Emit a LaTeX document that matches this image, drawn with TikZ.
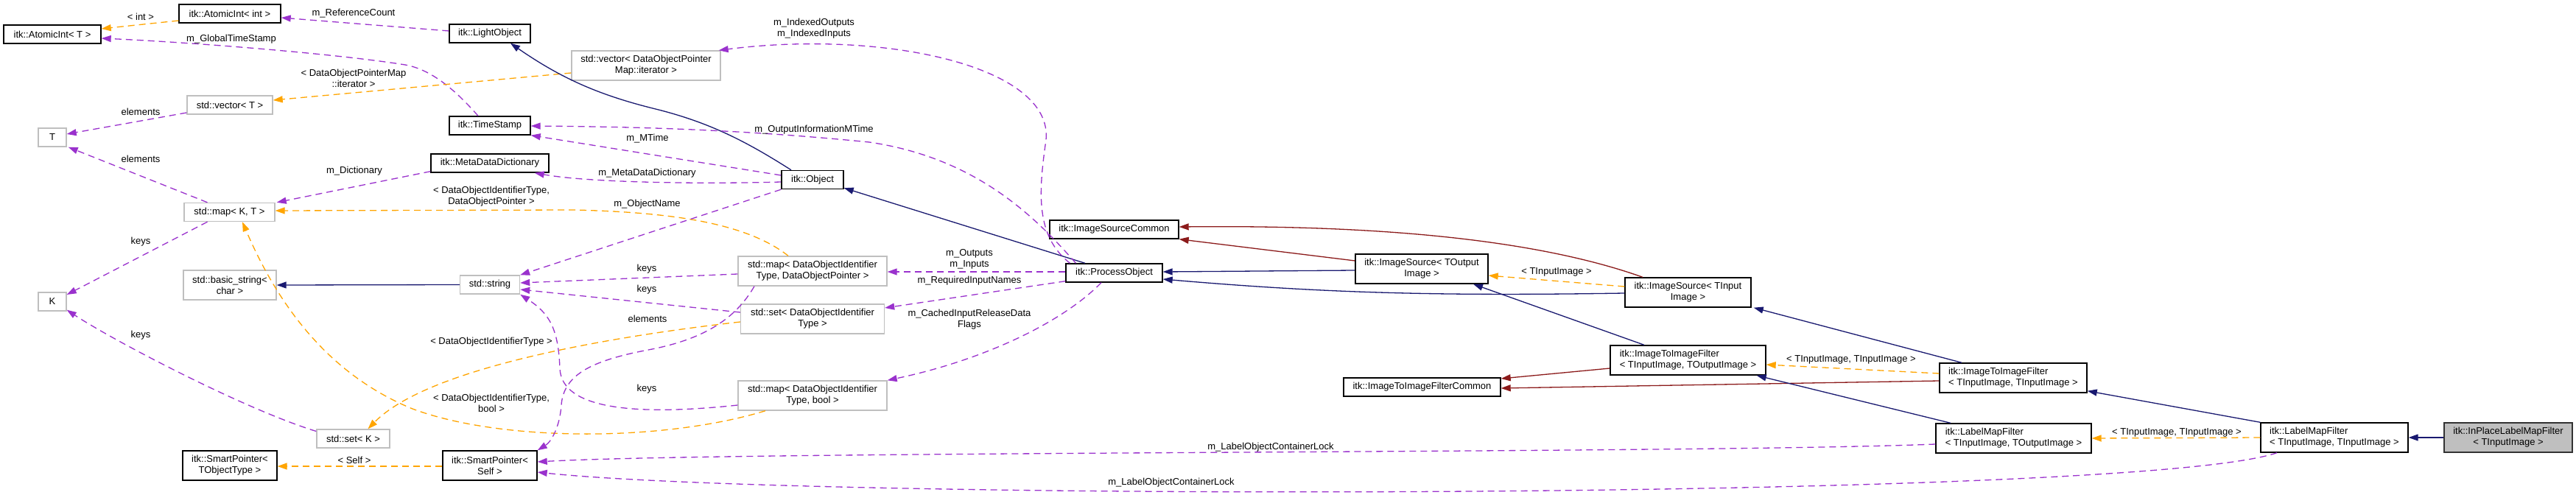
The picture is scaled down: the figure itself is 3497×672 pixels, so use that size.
\documentclass[tikz,border=0pt]{standalone}
\usepackage{fontspec}
\newfontfamily\dxfont{Liberation Sans}
\usetikzlibrary{arrows.meta,calc}
\definecolor{dblue}{HTML}{191970}
\definecolor{dred}{HTML}{8B1A1A}
\definecolor{dpurple}{HTML}{9A32CD}
\definecolor{dorange}{HTML}{FFA500}
\definecolor{grey75}{HTML}{BFBFBF}
\begin{document}
\begin{tikzpicture}[x=1pt,y=-1pt,
 box/.style={draw=black, line width=1.4pt, fill=white, inner sep=0pt, minimum height=25pt, align=center, font=\dxfont\fontsize{13}{15}\selectfont},
 gbox/.style={box, draw=grey75},
 tbox/.style={box, minimum height=40pt},
 gtbox/.style={gbox, minimum height=40pt},
 lbl/.style={inner sep=0pt, align=center, font=\dxfont\fontsize{13}{15}\selectfont},
 dxtip/.style={-{Triangle[length=13pt,width=9pt]}},
 inh/.style={draw=dblue, line width=1.3pt, dxtip},
 priv/.style={draw=dred, line width=1.3pt, dxtip},
 use/.style={draw=dpurple, line width=1.3pt, dash pattern=on 9pt off 6pt, dxtip},
 tmpl/.style={draw=dorange, line width=1.3pt, dash pattern=on 9pt off 6pt, dxtip},
]
\path[use as bounding box, fill=white] (0,0) rectangle (3497,672);

% ---- nodes ----
\node[box, minimum width=132pt] (atT) at (71,46.5) {itk::AtomicInt< T >};
\node[box, minimum width=138pt] (atInt) at (312,18.5) {itk::AtomicInt< int >};
\node[gbox, minimum width=116pt] (vecT) at (312,142.5) {std::vector< T >};
\node[gbox, minimum width=38pt] (T) at (71,186.5) {T};
\node[gbox, minimum width=123pt] (mapKT) at (311.5,288) {std::map< K, T >};
\node[gbox, minimum width=38pt] (K) at (71,409.5) {K};
\node[gtbox, minimum width=126pt] (bstr) at (312,387) {std::basic\_string<\\char >};
\node[gbox, minimum width=99pt] (setK) at (479.5,595.5) {std::set< K >};
\node[tbox, minimum width=128pt] (spTOT) at (312,632) {itk::SmartPointer<\\TObjectType >};
\node[box, minimum width=110pt] (lightObj) at (665,45.5) {itk::LightObject};
\node[gtbox, minimum width=202pt] (vecDOPM) at (877,89) {std::vector< DataObjectPointer\\Map::iterator >};
\node[box, minimum width=110pt] (timeStamp) at (665,170.5) {itk::TimeStamp};
\node[box, minimum width=160pt] (mdd) at (665,221.5) {itk::MetaDataDictionary};
\node[box, minimum width=84pt] (obj) at (1103,244) {itk::Object};
\node[gbox, minimum width=81pt] (str) at (665,386.5) {std::string};
\node[gtbox, minimum width=202pt] (mapDOP) at (1103,368) {std::map< DataObjectIdentifier\\Type, DataObjectPointer >};
\node[gtbox, minimum width=195pt] (setDOIT) at (1103,433) {std::set< DataObjectIdentifier\\Type >};
\node[gtbox, minimum width=202pt] (mapDB) at (1103,537) {std::map< DataObjectIdentifier\\Type, bool >};
\node[tbox, minimum width=128pt] (spSelf) at (665,632) {itk::SmartPointer<\\Self >};
\node[box, minimum width=131pt] (procObj) at (1512.5,370.5) {itk::ProcessObject};
\node[box, minimum width=175pt] (isc) at (1512.5,311.5) {itk::ImageSourceCommon};
\node[tbox, minimum width=180pt] (isTO) at (1930,365) {itk::ImageSource< TOutput\\Image >};
\node[tbox, minimum width=171pt] (isTI) at (2291.5,397) {itk::ImageSource< TInput\\Image >};
\node[box, minimum width=213pt] (itifc) at (1930.5,525.5) {itk::ImageToImageFilterCommon};
\node[tbox, minimum width=211pt, align=left] (itifTO) at (2291.5,489) {itk::ImageToImageFilter\\< TInputImage, TOutputImage >};
\node[tbox, minimum width=200pt, align=left] (itifTI) at (2733,513) {itk::ImageToImageFilter\\< TInputImage, TInputImage >};
\node[tbox, minimum width=211pt, align=left] (lmfTO) at (2733.5,595) {itk::LabelMapFilter\\< TInputImage, TOutputImage >};
\node[tbox, minimum width=200pt, align=left] (lmfTI) at (3169,594) {itk::LabelMapFilter\\< TInputImage, TInputImage >};
\node[tbox, minimum width=174pt, fill=grey75, draw=black!80] (inplace) at (3405,594) {itk::InPlaceLabelMapFilter\\< TInputImage >};

% ---- edges ----
\draw[tmpl] ($(atInt.west)+(0,9.5)$) -- ($(atT.east)+(0,-7.5)$);
\draw[use] ($(lightObj.west)+(0,-3.5)$) -- ($(atInt.east)+(0,5.5)$);
\draw[use] ($(timeStamp.north)+(-16,0)$) .. controls (625,130) and (590,95) .. (550,88) .. controls (450,72) and (250,57) .. ($(atT.east)+(0,5.5)$);
\draw[tmpl] ($(vecDOPM.west)+(0,10)$) -- ($(vecT.east)+(0,-6.5)$);
\draw[use] ($(vecT.west)+(0,10.5)$) -- ($(T.east)+(0,-4.5)$);
\draw[use] ($(mapKT.north)+(-30,0)$) -- ($(T.south east)+(2,0)$);
\draw[use] ($(mapKT.south)+(-30,0)$) -- ($(K.east)+(0,-9.5)$);
\draw[use] ($(setK.west)+(0,-10)$) .. controls (330,555) and (150,460) .. ($(K.south east)+(0,-2)$);
\draw[tmpl] ($(mapDOP.north)+(-33,0)$) .. controls (1010,300) and (900,288) .. (780,285) -- ($(mapKT.east)+(0,-2)$);
\draw[tmpl] ($(setDOIT.west)+(0,4)$) .. controls (820,458) and (580,500) .. ($(setK.north)+(20,0)$);
\draw[tmpl] ($(mapDB.south)+(-64,0)$) .. controls (900,600) and (680,600) .. (560,555) .. controls (450,510) and (380,420) .. ($(mapKT.south)+(17.5,0)$);
\draw[use] ($(mapDOP.west)+(0,4)$) -- ($(str.east)+(0,-2.5)$);
\draw[use] ($(setDOIT.west)+(0,-9)$) -- ($(str.east)+(0,6.5)$);
\draw[use] ($(mapDB.west)+(0,13)$) .. controls (860,565) and (762,555) .. (760,500) .. controls (758,445) and (745,425) .. (str.south east);
\draw[use] ($(mapDOP.south)+(-79,0)$) .. controls (1000,430) and (960,460) .. (880,475) .. controls (800,490) and (765,510) .. (762,550) .. controls (760,580) and (748,600) .. (spSelf.north east);
\draw[use] ($(obj.west)+(0,-6)$) -- (timeStamp.south east);
\draw[use] ($(obj.west)+(0,3)$) .. controls (950,250) and (800,248) .. ($(mdd.south east)+(-20,0)$);
\draw[use] (obj.south west) -- (str.north east);
\draw[inh] ($(obj.north)+(-29,0)$) .. controls (1010,190) and (960,165) .. (886,147) .. controls (810,128) and (760,105) .. ($(lightObj.south)+(28,0)$);
\draw[inh] ($(procObj.north)+(-39.5,0)$) -- ($(obj.south east)+(0,-2)$);
\draw[use] ($(procObj.north)+(-60,0)$) .. controls (1405,320) and (1410,260) .. (1420,190) .. controls (1430,90) and (1200,40) .. ($(vecDOPM.north east)+(-3,0)$);
\draw[use] ($(procObj.north)+(-52,0)$) .. controls (1410,300) and (1330,215) .. (1180,193) .. controls (1000,175) and (850,172) .. ($(timeStamp.east)+(0,0.5)$);
\draw[use] ($(procObj.west)+(0,-1.5)$) -- ($(mapDOP.east)+(0,1)$);
\draw[use] ($(procObj.south west)+(0,-2)$) -- ($(setDOIT.east)+(0,-15)$);
\draw[use] ($(procObj.south)+(-17.5,0)$) .. controls (1440,440) and (1330,490) .. (mapDB.north east);
\draw[priv] ($(isTO.west)+(0,-11)$) -- (isc.south east);
\draw[inh] ($(isTO.west)+(0,2)$) -- ($(procObj.east)+(0,-1.5)$);
\draw[priv] ($(isTI.north)+(-61.5,0)$) .. controls (2100,330) and (1900,305) .. ($(isc.east)+(0,-3.5)$);
\draw[inh] ($(isTI.west)+(0,1)$) .. controls (1950,402) and (1800,398) .. ($(procObj.east)+(0,8.5)$);
\draw[tmpl] ($(isTI.west)+(0,-8)$) -- ($(isTO.east)+(0,9)$);
\draw[inh] ($(itifTO.north)+(-59.5,0)$) -- ($(isTO.south)+(70,0)$);
\draw[priv] ($(itifTO.west)+(0,11)$) -- ($(itifc.east)+(0,-11.5)$);
\draw[priv] ($(itifTI.west)+(0,4)$) -- ($(itifc.east)+(0,1.5)$);
\draw[inh] ($(itifTI.north)+(-70,0)$) -- ($(isTI.south east)+(3,0)$);
\draw[tmpl] ($(itifTI.west)+(0,-6)$) -- ($(itifTO.east)+(0,6)$);
\draw[inh] ($(lmfTO.north)+(-85.5,0)$) -- ($(itifTO.south east)+(-13,0)$);
\draw[use] ($(lmfTO.west)+(0,8)$) .. controls (2300,616) and (1000,612) .. ($(spSelf.east)+(0,-5)$);
\draw[use] ($(lmfTI.south)+(-78,0)$) .. controls (2900,680) and (1100,680) .. ($(spSelf.east)+(0,9)$);
\draw[inh] (lmfTI.north west) -- ($(itifTI.south east)+(0,-3)$);
\draw[tmpl] (lmfTI.west) -- (lmfTO.east);
\draw[inh] (inplace.west) -- (lmfTI.east);
\draw[inh] (str.west) -- (bstr.east);
\draw[tmpl] ($(spSelf.west)+(0,1)$) -- ($(spTOT.east)+(0,1)$);
\draw[use] ($(mdd.south west)+(0,-2)$) -- ($(mapKT.north east)+(2,0)$);

% ---- labels ----
\node[lbl] (l1) at (191,23) {< int >};
\node[lbl] (l2) at (480,18) {m\_ReferenceCount};
\node[lbl] (l3) at (314,53) {m\_GlobalTimeStamp};
\node[lbl] (l4) at (480,106) {< DataObjectPointerMap\\::iterator >};
\node[lbl] (l5) at (191,152) {elements};
\node[lbl] (l6) at (191,216) {elements};
\node[lbl] (l7) at (191,328) {keys};
\node[lbl] (l8) at (191,455) {keys};
\node[lbl] (l9) at (667,267) {< DataObjectIdentifierType,\\DataObjectPointer >};
\node[lbl] (l10) at (667,464) {< DataObjectIdentifierType >};
\node[lbl] (l11) at (667,547) {< DataObjectIdentifierType,\\bool >};
\node[lbl] (l12) at (878,365) {keys};
\node[lbl] (l13) at (878,393) {keys};
\node[lbl] (l14) at (878,528) {keys};
\node[lbl] (l15) at (879,433) {elements};
\node[lbl] (l16) at (879,188) {m\_MTime};
\node[lbl] (l17) at (878.5,235) {m\_MetaDataDictionary};
\node[lbl] (l18) at (878.5,277) {m\_ObjectName};
\node[lbl] (l21) at (1105,39) {m\_IndexedOutputs\\m\_IndexedInputs};
\node[lbl] (l22) at (1105,176) {m\_OutputInformationMTime};
\node[lbl] (l23) at (1316,352) {m\_Outputs\\m\_Inputs};
\node[lbl] (l24) at (1316,381) {m\_RequiredInputNames};
\node[lbl] (l25) at (1316,434) {m\_CachedInputReleaseData\\Flags};
\node[lbl] (l30) at (2113,369) {< TInputImage >};
\node[lbl] (l35) at (2513,488) {< TInputImage, TInputImage >};
\node[lbl] (l37) at (1725,607) {m\_LabelObjectContainerLock};
\node[lbl] (l38) at (1590,655) {m\_LabelObjectContainerLock};
\node[lbl] (l40) at (2955,587) {< TInputImage, TInputImage >};
\node[lbl] (l43) at (481,625) {< Self >};
\node[lbl] (l44) at (481,232) {m\_Dictionary};
\end{tikzpicture}
\end{document}
